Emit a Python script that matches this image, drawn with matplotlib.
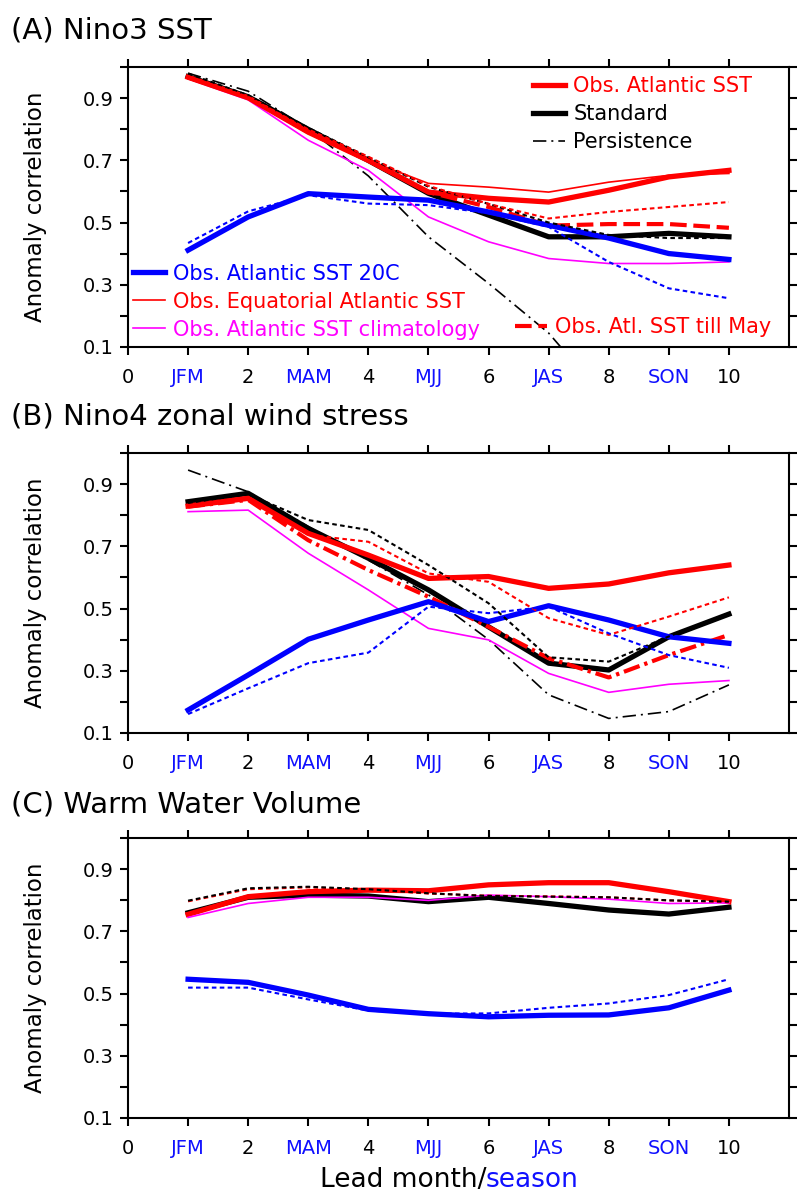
import matplotlib
matplotlib.use("Agg")
import matplotlib.pyplot as plt

# ---------------------------------
# Data
# ---------------------------------

months = [1, 2, 3, 4, 5, 6, 7, 8, 9, 10]
tick_pos = [0, 1, 2, 3, 4, 5, 6, 7, 8, 9, 10]
tick_labels = ["0", "JFM", "2", "MAM", "4", "MJJ", "6", "JAS", "8", "SON", "10"]
panel_titles = ["(A) Nino3 SST", "(B) Nino4 zonal wind stress", "(C) Warm Water Volume"]

# (A) Nino3 SST
a_atl = [0.968, 0.902, 0.791, 0.700, 0.598, 0.578, 0.566, 0.604, 0.647, 0.668]
a_eq = [0.965, 0.900, 0.790, 0.700, 0.626, 0.614, 0.598, 0.630, 0.652, 0.658]
a_clim = [0.963, 0.895, 0.765, 0.668, 0.518, 0.438, 0.384, 0.368, 0.368, 0.373]
a_std = [0.970, 0.905, 0.800, 0.700, 0.594, 0.524, 0.454, 0.454, 0.465, 0.454]
a_std_dash = [0.980, 0.910, 0.805, 0.710, 0.615, 0.560, 0.500, 0.460, 0.450, 0.450]
a_may = [0.968, 0.902, 0.791, 0.700, 0.598, 0.550, 0.490, 0.495, 0.495, 0.483]
a_atl_dash = [0.970, 0.905, 0.800, 0.712, 0.618, 0.560, 0.513, 0.534, 0.550, 0.566]
a_20c = [0.411, 0.518, 0.593, 0.582, 0.572, 0.534, 0.491, 0.450, 0.400, 0.381]
a_20c_dash = [0.434, 0.536, 0.588, 0.561, 0.556, 0.530, 0.486, 0.373, 0.288, 0.256]
a_pers = [0.981, 0.923, 0.802, 0.650, 0.454, 0.304, 0.144, -0.08, -0.20, -0.25]

# (B) Nino4 zonal wind stress
b_atl = [0.830, 0.855, 0.742, 0.672, 0.597, 0.603, 0.565, 0.579, 0.615, 0.640]
b_clim = [0.812, 0.817, 0.678, 0.560, 0.436, 0.399, 0.291, 0.230, 0.256, 0.268]
b_std = [0.844, 0.871, 0.758, 0.662, 0.560, 0.441, 0.324, 0.302, 0.409, 0.482]
b_std_dash = [0.840, 0.868, 0.785, 0.753, 0.640, 0.517, 0.343, 0.329, 0.410, 0.485]
b_may = [0.828, 0.850, 0.720, 0.624, 0.538, 0.441, 0.340, 0.278, 0.350, 0.415]
b_atl_dash = [0.832, 0.860, 0.737, 0.715, 0.613, 0.586, 0.469, 0.415, 0.474, 0.536]
b_20c = [0.173, 0.286, 0.401, 0.463, 0.522, 0.458, 0.509, 0.463, 0.409, 0.388]
b_20c_dash = [0.160, 0.243, 0.324, 0.358, 0.506, 0.485, 0.506, 0.420, 0.350, 0.309]
b_pers = [0.946, 0.876, 0.764, 0.656, 0.544, 0.400, 0.222, 0.146, 0.168, 0.254]

# (C) Warm Water Volume
c_atl = [0.755, 0.812, 0.828, 0.833, 0.831, 0.850, 0.857, 0.857, 0.828, 0.796]
c_std = [0.760, 0.810, 0.817, 0.814, 0.796, 0.810, 0.790, 0.769, 0.756, 0.778]
c_clim = [0.745, 0.790, 0.810, 0.810, 0.800, 0.817, 0.812, 0.804, 0.790, 0.792]
c_std_dash = [0.799, 0.839, 0.844, 0.836, 0.823, 0.814, 0.812, 0.810, 0.800, 0.796]
c_atl_dash = [0.797, 0.836, 0.842, 0.835, 0.822, 0.815, 0.813, 0.810, 0.800, 0.795]
c_20c = [0.546, 0.536, 0.495, 0.449, 0.435, 0.425, 0.430, 0.431, 0.454, 0.511]
c_20c_dash = [0.519, 0.519, 0.481, 0.445, 0.435, 0.436, 0.454, 0.468, 0.495, 0.546]

# ---------------------------------
# Styles
# ---------------------------------

RED = "#ff0000"
BLUE = "#0000ff"
MAG = "#ff00ff"
TICK_BLUE = "#1010ff"

THICK = 3.8
THIN = 1.2
DASH_LW = 1.5

plt.rcParams["font.family"] = ["DejaVu Sans"]

fig = plt.figure(figsize=(7.98, 11.93), dpi=100)

ax_left = 128 / 798
ax_w = 661 / 798
ax_h = 279.4 / 1193
bottoms = [1 - 346.7 / 1193, 1 - 732.7 / 1193, 1 - 1117.7 / 1193]
title_y = [1 - 31 / 1193, 1 - 417 / 1193, 1 - 805 / 1193]

axes = []
for i in range(3):
    ax = fig.add_axes([ax_left, bottoms[i], ax_w, ax_h])
    ax.set_xlim(0, 11)
    ax.set_ylim(0.1, 1.0)
    ax.set_xticks(tick_pos)
    ax.set_xticklabels(tick_labels, fontsize=14)
    for lab, t in zip(ax.get_xticklabels(), tick_labels):
        if not t.isdigit():
            lab.set_color(TICK_BLUE)
    ax.set_yticks([0.1, 0.3, 0.5, 0.7, 0.9])
    ax.set_yticklabels(["0.1", "0.3", "0.5", "0.7", "0.9"], fontsize=14)
    ax.set_yticks([0.2, 0.4, 0.6, 0.8, 1.0], minor=True)
    ax.tick_params(axis="both", which="both", direction="out", length=6,
                   width=1.5, top=True, right=True)
    ax.tick_params(axis="x", pad=9)
    ax.tick_params(axis="y", pad=4)
    for sp in ax.spines.values():
        sp.set_linewidth(1.5)
    ax.set_ylabel("Anomaly correlation", fontsize=16.5)
    ax.yaxis.set_label_coords(-0.1225, 0.5)
    fig.text(0.014, title_y[i], panel_titles[i], fontsize=21, va="center")
    axes.append(ax)

short_dash = (2.2, 1.6)
pers_dash = (8, 3, 1.2, 3)

# ---------------------------------
# Panel A
# ---------------------------------

ax = axes[0]
h_pers, = ax.plot(months, a_pers, color="black", lw=THIN, dashes=pers_dash,
                  label="Persistence", zorder=2)
h_clim, = ax.plot(months, a_clim, color=MAG, lw=THIN,
                  label="Obs. Atlantic SST climatology", zorder=2)
h_eq, = ax.plot(months, a_eq, color=RED, lw=THIN,
                label="Obs. Equatorial Atlantic SST", zorder=2)
h_std, = ax.plot(months, a_std, color="black", lw=THICK, label="Standard", zorder=3)
ax.plot(months, a_std_dash, color="black", lw=DASH_LW, dashes=short_dash, zorder=6)
h_atl, = ax.plot(months, a_atl, color=RED, lw=THICK, label="Obs. Atlantic SST", zorder=4)
ax.plot(months, a_atl_dash, color=RED, lw=DASH_LW, dashes=short_dash, zorder=6)
h_may, = ax.plot(months, a_may, color=RED, lw=3.0, dashes=(4, 1.6),
                 label="Obs. Atl. SST till May", zorder=5)
h_20c, = ax.plot(months, a_20c, color=BLUE, lw=THICK,
                 label="Obs. Atlantic SST 20C", zorder=5)
ax.plot(months, a_20c_dash, color=BLUE, lw=DASH_LW, dashes=short_dash, zorder=6)

leg_kw = dict(frameon=False, fontsize=15, handlelength=1.55, handletextpad=0.38,
              labelspacing=0.38, borderaxespad=0, borderpad=0,
              labelcolor="linecolor", loc="upper left")
leg1 = ax.legend(handles=[h_atl, h_std, h_pers], bbox_to_anchor=(0.613, 0.969), **leg_kw)
ax.add_artist(leg1)
leg2 = ax.legend(handles=[h_20c, h_eq, h_clim], bbox_to_anchor=(0.0076, 0.297), **leg_kw)
ax.add_artist(leg2)
leg3 = ax.legend(handles=[h_may], bbox_to_anchor=(0.585, 0.106), **leg_kw)

# ---------------------------------
# Panel B
# ---------------------------------

ax = axes[1]
ax.plot(months, b_pers, color="black", lw=THIN, dashes=pers_dash, zorder=2)
ax.plot(months, b_clim, color=MAG, lw=THIN, zorder=2)
ax.plot(months, b_std, color="black", lw=THICK, zorder=3)
ax.plot(months, b_std_dash, color="black", lw=DASH_LW, dashes=short_dash, zorder=6)
ax.plot(months, b_atl, color=RED, lw=THICK, zorder=4)
ax.plot(months, b_atl_dash, color=RED, lw=DASH_LW, dashes=short_dash, zorder=6)
ax.plot(months, b_may, color=RED, lw=3.0, dashes=(4, 1.2, 0.8, 1.2), zorder=5)
ax.plot(months, b_20c, color=BLUE, lw=THICK, zorder=5)
ax.plot(months, b_20c_dash, color=BLUE, lw=DASH_LW, dashes=short_dash, zorder=6)

# ---------------------------------
# Panel C
# ---------------------------------

ax = axes[2]
ax.plot(months, c_clim, color=MAG, lw=THIN, zorder=4)
ax.plot(months, c_std, color="black", lw=THICK, zorder=3)
ax.plot(months, c_atl, color=RED, lw=THICK, zorder=3)
ax.plot(months, c_std_dash, color="black", lw=DASH_LW, dashes=short_dash, zorder=6)
ax.plot(months, c_atl_dash, color=RED, lw=DASH_LW, dashes=short_dash, zorder=5)
ax.plot(months, c_20c, color=BLUE, lw=THICK, zorder=5)
ax.plot(months, c_20c_dash, color=BLUE, lw=DASH_LW, dashes=short_dash, zorder=6)

# x label with blue "season"
split_x = 486 / 798
fig.text(split_x, 1 - 1180 / 1193, "Lead month/", fontsize=19, ha="right", va="center")
fig.text(split_x, 1 - 1180 / 1193, "season", fontsize=19, ha="left", va="center",
         color=TICK_BLUE)

fig.savefig("out.png", dpi=100)
